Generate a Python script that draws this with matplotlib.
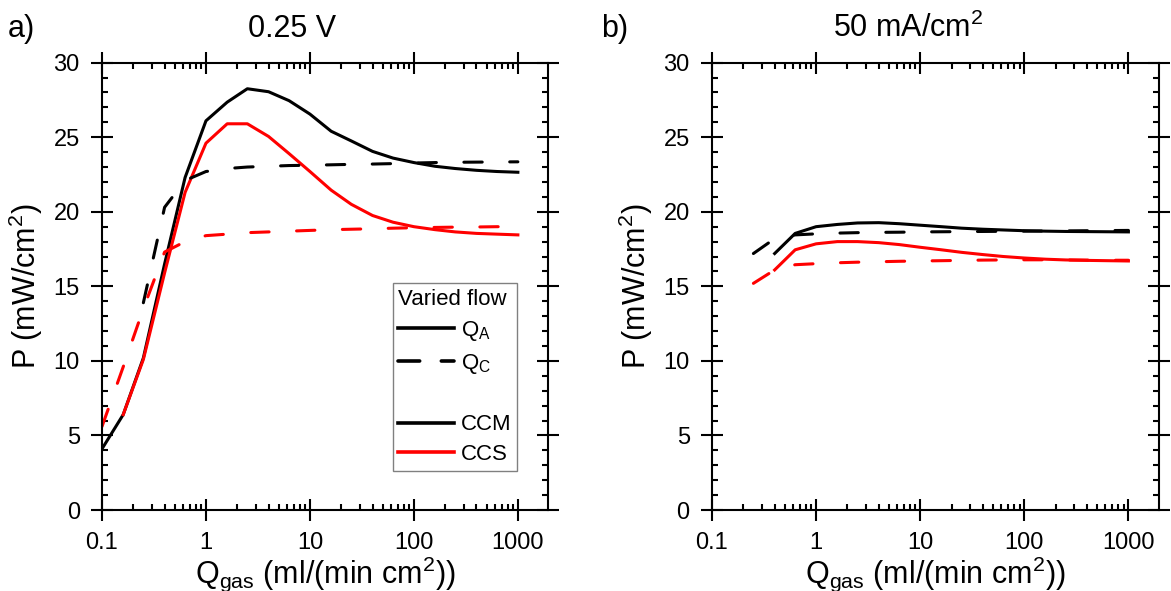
import matplotlib
matplotlib.use('Agg')
import matplotlib.pyplot as plt
from matplotlib.lines import Line2D
from matplotlib import ticker

plt.rcParams['font.family'] = ['Liberation Sans', 'DejaVu Sans']
plt.rcParams['mathtext.default'] = 'regular'

# flow values, ml/(min cm2)
q_a = [0.1, 0.16, 0.25, 0.4, 0.63, 1, 1.6, 2.5, 4, 6.3, 10, 16, 25, 40, 63, 100, 160, 250, 400, 630, 1000]

# a) 0.25 V
a_ccm_qa = [4.1, 6.4, 10.2, 16.5, 22.3, 26.1, 27.35, 28.25, 28.05, 27.45, 26.55, 25.4, 24.75, 24.05, 23.6,
            23.3, 23.05, 22.9, 22.78, 22.7, 22.65]
a_ccs_qa = [None, 6.4, 10.1, 15.9, 21.3, 24.6, 25.9, 25.9, 25.05, 23.9, 22.7, 21.45, 20.5, 19.75, 19.3,
            19.0, 18.8, 18.65, 18.55, 18.5, 18.45]
a_ccm_qc = [None, None, 13.9, 20.3, 22.1, 22.7, 22.9, 23.0, 23.05, 23.1, 23.12, 23.15, 23.18, 23.2, 23.23,
            23.27, 23.3, 23.32, 23.33, 23.34, 23.35]
a_ccs_qc = [5.6, 9.6, 13.5, 17.3, 18.0, 18.4, 18.5, 18.6, 18.65, 18.7, 18.75, 18.8, 18.83, 18.86, 18.9,
            18.93, 18.95, 18.97, 18.98, 19.0, 19.0]

# b) 50 mA/cm2
b_ccm_qa = [None, None, None, 17.2, 18.55, 19.0, 19.15, 19.25, 19.27, 19.2, 19.1, 19.0, 18.9, 18.83, 18.78,
            18.73, 18.7, 18.68, 18.67, 18.66, 18.65]
b_ccs_qa = [None, None, None, 16.1, 17.45, 17.85, 18.0, 18.0, 17.93, 17.8, 17.62, 17.45, 17.28, 17.13, 17.0,
            16.9, 16.82, 16.77, 16.74, 16.72, 16.7]
b_ccm_qc = [None, None, 17.2, 18.2, 18.45, 18.52, 18.57, 18.6, 18.62, 18.63, 18.65, 18.66, 18.67, 18.68, 18.69,
            18.7, 18.71, 18.72, 18.73, 18.74, 18.75]
b_ccs_qc = [None, None, 15.2, 16.1, 16.45, 16.52, 16.58, 16.62, 16.65, 16.68, 16.7, 16.72, 16.74, 16.76, 16.77,
            16.78, 16.78, 16.77, 16.76, 16.75, 16.75]


def clean(x, y):
    pts = [(a, b) for a, b in zip(x, y) if b is not None]
    return [p[0] for p in pts], [p[1] for p in pts]


LW = 2.2
DASH = (6, 9)


def draw(ax, ccm_qa, ccs_qa, ccm_qc, ccs_qc):
    ax.plot(*clean(q_a, ccm_qa), color='black', lw=LW)
    ax.plot(*clean(q_a, ccs_qa), color='red', lw=LW)
    ax.plot(*clean(q_a, ccm_qc), color='black', lw=LW, dashes=DASH, dash_capstyle='round')
    ax.plot(*clean(q_a, ccs_qc), color='red', lw=LW, dashes=DASH, dash_capstyle='round')

    ax.set_xscale('log')
    ax.set_xlim(0.1, 1950)
    ax.set_ylim(0, 30)
    ax.xaxis.set_major_locator(ticker.FixedLocator([0.1, 1, 10, 100, 1000]))
    ax.xaxis.set_major_formatter(ticker.FuncFormatter(lambda v, p: f'{v:g}'))
    ax.xaxis.set_minor_locator(ticker.LogLocator(base=10, subs=range(2, 10), numticks=20))
    ax.xaxis.set_minor_formatter(ticker.NullFormatter())
    ax.yaxis.set_major_locator(ticker.MultipleLocator(5))
    ax.yaxis.set_minor_locator(ticker.MultipleLocator(1))

    for s in ax.spines.values():
        s.set_linewidth(1.5)
    ax.tick_params(which='major', direction='inout', length=16, width=1.5,
                   top=True, right=True, labelsize=17, pad=8)
    ax.tick_params(which='minor', direction='in', length=4, width=1.5, top=True, right=True)

    ax.set_ylabel('P (mW/cm$^2$)', fontsize=22)
    ax.set_xlabel('Q$_{gas}$ (ml/(min cm$^2$))', fontsize=22)
    ax.yaxis.set_label_coords(-0.127, 0.5)
    ax.xaxis.set_label_coords(0.5, -0.1)


fig = plt.figure(figsize=(11.71, 5.91), dpi=100)
ax1 = fig.add_axes([0.0871, 0.137, 0.3809, 0.757])
ax2 = fig.add_axes([0.608, 0.137, 0.3814, 0.757])

draw(ax1, a_ccm_qa, a_ccs_qa, a_ccm_qc, a_ccs_qc)
draw(ax2, b_ccm_qa, b_ccs_qa, b_ccm_qc, b_ccs_qc)

fig.text(292 / 1171, 1 - 37 / 591, '0.25 V', fontsize=22, ha='center', va='baseline')
fig.text(908 / 1171, 1 - 37 / 591, '50 mA/cm$^2$', fontsize=22, ha='center', va='baseline')
fig.text(8 / 1171, 1 - 37 / 591, 'a)', fontsize=22, ha='left', va='baseline')
fig.text(601 / 1171, 1 - 37 / 591, 'b)', fontsize=22, ha='left', va='baseline')

handles = [
    Line2D([], [], color='black', lw=LW + 0.4),
    Line2D([], [], color='black', lw=LW + 0.4, dashes=(6, 6), dash_capstyle='round'),
    Line2D([], [], color='none', lw=0),
    Line2D([], [], color='black', lw=LW + 0.4),
    Line2D([], [], color='red', lw=LW + 0.4),
]
labels = ['Q$_A$', 'Q$_C$', '', 'CCM', 'CCS']
leg = ax1.legend(handles, labels, title='Varied flow', loc='upper left',
                 bbox_to_anchor=(0.652, 0.507), fontsize=16, title_fontsize=16,
                 handlelength=2.5, handletextpad=0.3, labelspacing=0.4, borderpad=0.25,
                 borderaxespad=0, fancybox=False, framealpha=1, edgecolor='gray')
leg._legend_box.align = 'left'
leg.get_frame().set_linewidth(1)

fig.savefig('out.png', dpi=100)
